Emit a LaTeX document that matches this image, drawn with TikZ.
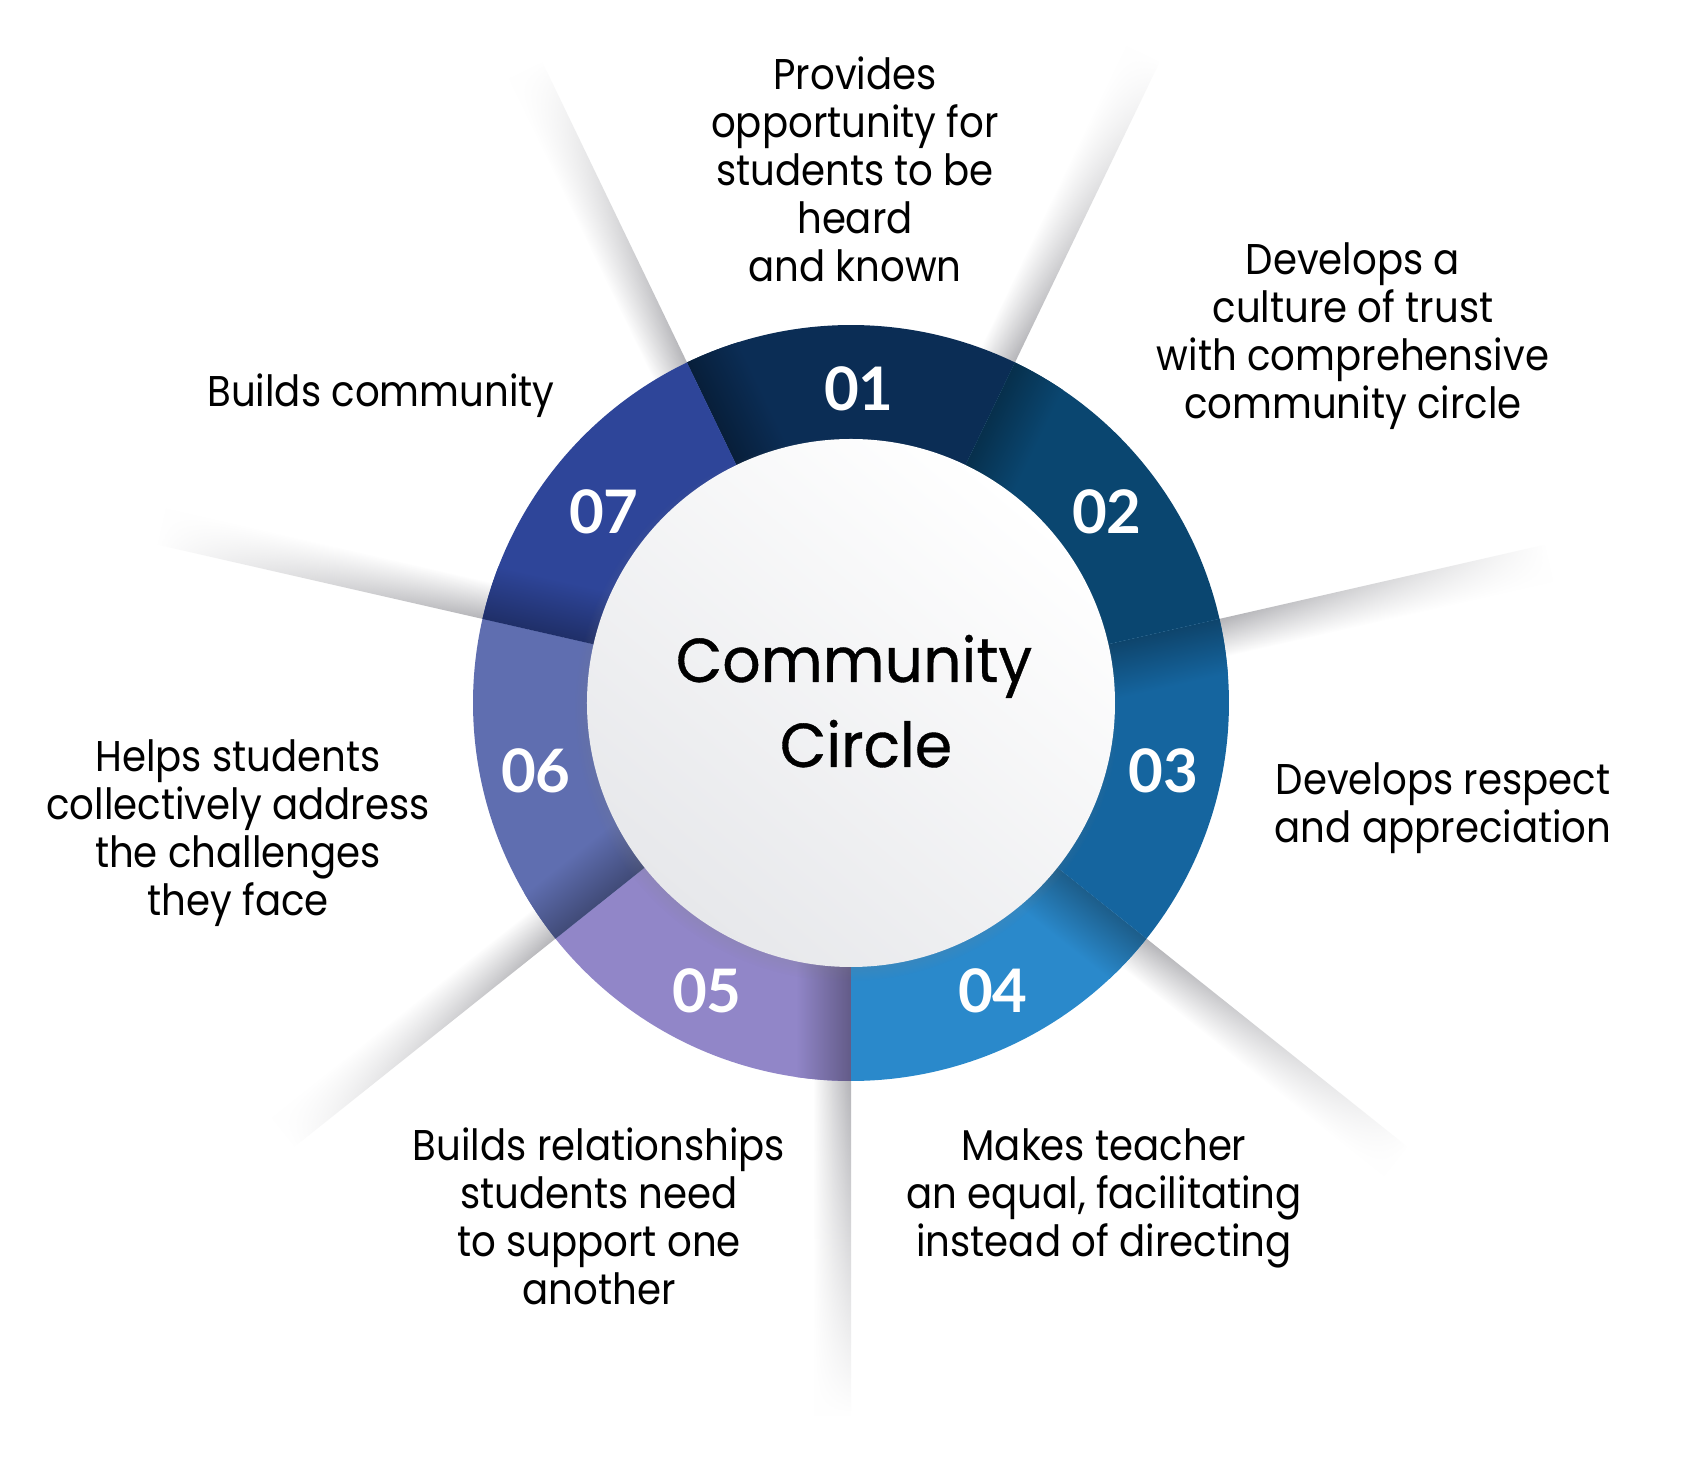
\documentclass[tikz,border=0pt]{standalone}
\usepackage{fontspec}
\setmainfont{Poppins}[FakeStretch=0.9]
\newfontfamily\ttlfont{Poppins}[FakeStretch=0.97, FakeBold=0.6]
\newfontfamily\numfont{Lato}
\usetikzlibrary{fadings,shadows}

\definecolor{seg01}{HTML}{0B2D55}
\definecolor{seg02}{HTML}{0A4670}
\definecolor{seg03}{HTML}{15659F}
\definecolor{seg04}{HTML}{2A89CB}
\definecolor{seg05}{HTML}{9186C8}
\definecolor{seg06}{HTML}{5F6EB0}
\definecolor{seg07}{HTML}{2E4599}
\definecolor{raygray}{HTML}{B0B0B4}
\definecolor{hubgray}{HTML}{E7E8EB}

\tikzfading[name=rayfade, left color=transparent!0, middle color=transparent!25, right color=transparent!100]

\begin{document}
\begin{tikzpicture}[x=0.5pt, y=0.5pt]

	\tikzstyle{num}=[font=\numfont\bfseries\fontsize{30}{30}\selectfont, text=white]
	\tikzstyle{lbl}=[font=\fontsize{21.5}{24}\selectfont, align=center, anchor=base, inner sep=0pt]
	\tikzstyle{ttl}=[font=\ttlfont\fontsize{31}{42}\selectfont, anchor=base, inner sep=0pt]
	\tikzstyle{rayup}=[top color=white, bottom color=raygray, path fading=rayfade]
	\tikzstyle{raydn}=[top color=raygray, bottom color=white, path fading=rayfade]

	\useasboundingbox (-851, -778) rectangle (831, 703);
	\fill[white] (-851, -778) rectangle (831, 703);

	\coordinate (c) at (0, 0);

	\coordinate (n_1) at (8, 314); % NUMBERS
	\coordinate (n_2) at (256, 191);
	\coordinate (n_3) at (312, -68);
	\coordinate (n_4) at (142, -288);
	\coordinate (n_5) at (-144, -288);
	\coordinate (n_6) at (-315, -68);
	\coordinate (n_7) at (-247, 191);

	\coordinate (l_1) at (4, 421); % LABELS (BASE OF LAST LINE)
	\coordinate (l_2) at (502, 284);
	\coordinate (l_3) at (592, -140);
	\coordinate (l_4) at (253, -554);
	\coordinate (l_5) at (-252, -602);
	\coordinate (l_6) at (-613, -213);
	\coordinate (l_7) at (-470, 296);

	% RAYS
	\foreach \a/\w/\st in {115.714/38/rayup, 64.286/38/rayup, 12.857/-38/raydn, -38.571/-38/raydn, -90/-38/raydn, -141.429/-38/raydn, 167.143/-38/raydn} {
		\begin{scope}[transform canvas={rotate=\a}]
			\shade[\st] (360, 0) rectangle (712, \w);
		\end{scope}
	}

	% RING
	\foreach \i/\col in {1/seg01, 2/seg02, 3/seg03, 4/seg04, 5/seg05, 6/seg06, 7/seg07} {
		\pgfmathsetmacro{\a}{115.714 - (\i - 1) * 51.4286}
		\pgfmathsetmacro{\b}{\a - 51.4286}
		\fill[\col] (\a:378) arc[start angle=\a, end angle=\b, radius=378] -- (\b:250) arc[start angle=\b, end angle=\a, radius=250] -- cycle;
		\begin{scope}
			\clip (\a:378) arc[start angle=\a, end angle=\b, radius=378] -- (\b:250) arc[start angle=\b, end angle=\a, radius=250] -- cycle;
			\begin{scope}[transform canvas={rotate=\a}]
				\shade[top color=\col!68!black, bottom color=\col] (240, -55) rectangle (390, 0);
			\end{scope}
		\end{scope}
	}

	% HUB
	\shade[top color=white, middle color=white, bottom color=hubgray, shading angle=-40,
		circular drop shadow={shadow scale=1.03, shadow xshift=-2pt, shadow yshift=-3pt, opacity=0.45}] (c) circle[radius=264];

	\node[ttl] (title_1) at (3, 21) {Community};
	\node[ttl] (title_2) at (15, -64) {Circle};

	\node[num] (num_1) at (n_1) {01};
	\node[num] (num_2) at (n_2) {02};
	\node[num] (num_3) at (n_3) {03};
	\node[num] (num_4) at (n_4) {04};
	\node[num] (num_5) at (n_5) {05};
	\node[num] (num_6) at (n_6) {06};
	\node[num] (num_7) at (n_7) {07};

	\node[lbl] (lbl_1) at (l_1) {Provides\\opportunity for\\students to be\\heard\\and known};
	\node[lbl] (lbl_2) at (l_2) {Develops a\\culture of trust\\with comprehensive\\community circle};
	\node[lbl] (lbl_3) at (l_3) {Develops respect\\and appreciation};
	\node[lbl] (lbl_4) at (l_4) {Makes teacher\\an equal, facilitating\\instead of directing};
	\node[lbl] (lbl_5) at (l_5) {Builds relationships\\students need\\to support one\\another};
	\node[lbl] (lbl_6) at (l_6) {Helps students\\collectively address\\the challenges\\they face};
	\node[lbl] (lbl_7) at (l_7) {Builds community};
\end{tikzpicture}
\end{document}
